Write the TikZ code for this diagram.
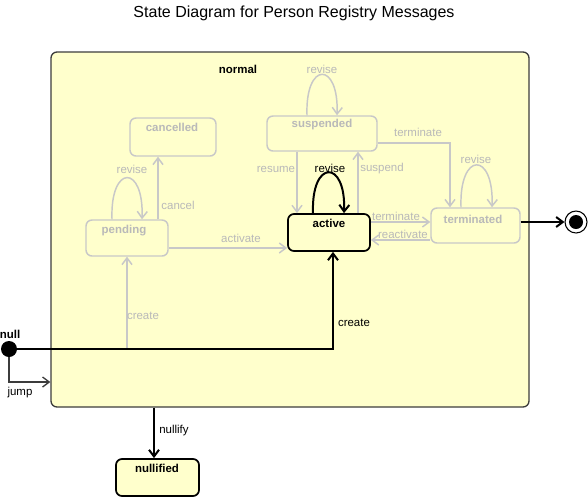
\documentclass[tikz,border=0pt]{standalone}
\usepackage{fontspec}
\setmainfont{Liberation Sans}
\usetikzlibrary{arrows.meta,fit}
\definecolor{fillY}{HTML}{FFFFCC}
\definecolor{lgray}{RGB}{200,200,200}
\definecolor{tgray}{RGB}{185,185,185}
\definecolor{dgray}{RGB}{60,60,60}
\tikzset{
  x=0.75pt, y=-0.75pt,
  txt/.style={font=\fontsize{8.6}{10}\selectfont, inner sep=0pt},
  btxt/.style={font=\fontsize{8.6}{10}\selectfont\bfseries, inner sep=0pt},
  gtxt/.style={txt, text=tgray},
  gbtxt/.style={btxt, text=tgray},
  gstate/.style={draw=lgray, line width=1.1pt, rounded corners=4.5pt, fill=fillY, inner sep=0pt},
  bstate/.style={draw=black, line width=1.3pt, rounded corners=4.5pt, fill=fillY, inner sep=0pt},
  container/.style={draw=dgray, line width=1pt, rounded corners=4.5pt, fill=fillY, inner sep=0pt},
  barb/.style={-{Straight Barb[length=5pt,width=7.5pt]}},
  gline/.style={draw=lgray, line width=1.1pt, barb},
  bline/.style={draw=black, line width=1.5pt, barb},
  dline/.style={draw=dgray, line width=1pt, barb},
}
\begin{document}
\begin{tikzpicture}
\useasboundingbox (0,0) rectangle (588,497);
% title
\node[font=\fontsize{12}{14}\selectfont, inner sep=0pt] (title) at (294,13) {State Diagram for Person Registry Messages};
% container
\node[container, fit={(51,52) (529,407)}] (normal) {};
\node[btxt] (normalT) at (238,69) {normal};
% states
\node[gstate, fit={(130,118) (216,156)}] (cancelled) {};
\node[gstate, fit={(86,220) (168,256)}] (pending) {};
\node[gstate, fit={(267,116) (377,151)}] (suspended) {};
\node[bstate, fit={(288,214) (370,251)}] (active) {};
\node[gstate, fit={(431,208) (520,243)}] (terminated) {};
\node[bstate, fit={(116,459) (199,496)}] (nullified) {};
\node[gbtxt] (cancelledT) at (172,127) {cancelled};
\node[gbtxt] (pendingT) at (124,231) {pending};
\node[gbtxt] (suspendedT) at (322,125) {suspended};
\node[btxt] (activeT) at (329,223) {active};
\node[gbtxt] (terminatedT) at (473,219) {terminated};
\node[btxt] (nullifiedT) at (157,468) {nullified};
% pseudo states
\node[circle, fill=black, minimum size=12pt, inner sep=0pt] (null) at (9,349) {};
\node[btxt] (nullT) at (10,334) {null};
\node[circle, draw=black, line width=0.8pt, fill=white, minimum size=16.5pt, inner sep=0pt] (final) at (576,222) {};
\node[circle, fill=black, minimum size=10.5pt, inner sep=0pt] (finalIn) at (final.center) {};
% gray transitions
\draw[gline] (pending.south |- null.east) -- (pending.south);
\draw[gline] (158,0 |- pending.north) -- (158,0 |- cancelled.south);
\draw[gline] (112,0 |- pending.north) .. controls (110,164) and (144,164) .. (142,0 |- pending.north);
\draw[gline] (pending.east |- 0,248) -- (active.west |- 0,248);
\draw[gline] (297,0 |- suspended.south) -- (297,0 |- active.north);
\draw[gline] (358,0 |- active.north) -- (358,0 |- suspended.south);
\draw[gline] (307,0 |- suspended.north) .. controls (305,61) and (339,61) .. (337,0 |- suspended.north);
\draw[gline] (suspended.east |- 0,143) -| (450,0 |- terminated.north);
\draw[gline] (461,0 |- terminated.north) .. controls (459,151) and (494,151) .. (492,0 |- terminated.north);
\draw[gline] (active.east |- 0,222) -- (terminated.west |- 0,222);
\draw[gline] (terminated.west |- 0,240) -- (active.east |- 0,240);
% black transitions
\draw[bline] (313,0 |- active.north) .. controls (311,159) and (346,159) .. (344,0 |- active.north);
\draw[bline] (null.east) -| (333,0 |- active.south);
\draw[bline] (terminated.east |- final.west) -- (final.west);
\draw[bline] (154,0 |- normal.south) -- (154,0 |- nullified.north);
\draw[dline] (null.south) |- (normal.west |- 0,382);
% labels
\node[gtxt] (lCancel) at (178,205) {cancel};
\node[gtxt] (lReviseP) at (132,169) {revise};
\node[gtxt] (lActivate) at (241,238) {activate};
\node[gtxt] (lResume) at (276,169) {resume};
\node[gtxt] (lSuspend) at (382,169) {suspend};
\node[gtxt] (lReviseS) at (322,69) {revise};
\node[gtxt] (lTermS) at (418,132) {terminate};
\node[gtxt] (lReviseT) at (476,159) {revise};
\node[gtxt] (lTermA) at (396,216) {terminate};
\node[gtxt] (lReact) at (403,234) {reactivate};
\node[gtxt] (lCreateG) at (143,316) {create};
\node[txt] (lReviseA) at (330,168) {revise};
\node[txt] (lCreate) at (354,323) {create};
\node[txt] (lJump) at (20,393) {jump};
\node[txt] (lNullify) at (174,431) {nullify};
\end{tikzpicture}
\end{document}
